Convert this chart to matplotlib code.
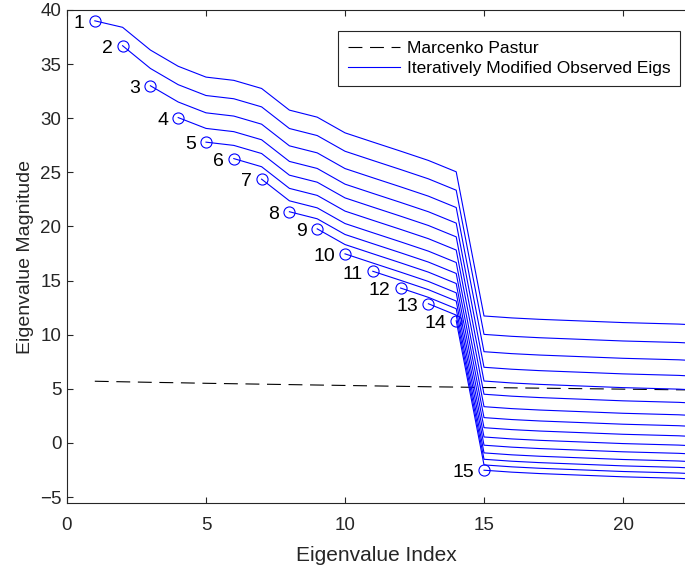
import numpy as np
import matplotlib
matplotlib.use('Agg')
import matplotlib.pyplot as plt

plt.rcParams['font.family'] = ['Liberation Sans', 'DejaVu Sans']
plt.rcParams['lines.scale_dashes'] = False

# eigenvalue index 1..23 (last point runs past the visible x range)
idx = np.arange(1, 24)

# first pass of observed eigenvalues
base_eigs = [39.0, 38.4, 36.3, 34.8, 33.8, 33.5, 32.75, 30.75, 30.1, 28.65,
             27.8, 26.96, 26.1, 25.05, 11.73, 11.55, 11.42, 11.32, 11.22,
             11.12, 11.05, 10.98, 10.85]

# drop applied to the remaining eigenvalues at each iteration
iter_drop = [1.70, 1.60, 1.44, 1.27, 1.22, 1.15, 1.01, 0.93, 0.86, 0.76,
             0.71, 0.59, 0.52, 0.49]

# Marcenko-Pastur reference level
mp_eigs = [5.70, 5.65, 5.60, 5.56, 5.51, 5.47, 5.43, 5.39, 5.35, 5.31, 5.27,
           5.23, 5.19, 5.16, 5.12, 5.09, 5.06, 5.03, 5.00, 4.97, 4.94, 4.91,
           4.88]

n_iter = 15
offsets = np.concatenate([[0.0], np.cumsum(iter_drop)])

fig = plt.figure(figsize=(6.85, 5.69), dpi=100)
ax = fig.add_axes([67 / 685, 66 / 569, (685 - 67) / 685, 493 / 569])

blue = (0.0, 0.0, 1.0)
mp_line, = ax.plot(idx, mp_eigs, color='k', lw=0.8, dashes=(10, 5.5),
                   label='Marcenko Pastur')

base = np.array(base_eigs)
for k in range(1, n_iter + 1):
    x = idx[k - 1:]
    y = base[k - 1:] - offsets[k - 1]
    ln, = ax.plot(x, y, color=blue, lw=0.8)
    ax.plot(x[0], y[0], 'o', mfc='none', mec=blue, ms=8, mew=0.8)
    ax.annotate(str(k), (x[0], y[0]), xytext=(-7.2, -2),
                textcoords='offset points', ha='right', va='center',
                fontsize=14, color='k')
    if k == 1:
        ln.set_label('Iteratively Modified Observed Eigs')
        obs_line = ln

ax.set_xlim(0, 22.23)
ax.set_ylim(-5.55, 40)
ax.set_xticks([0, 5, 10, 15, 20])
ax.set_yticks(np.arange(-5, 41, 5))

edge = (0.15, 0.15, 0.15)
for side in ['left', 'bottom', 'top']:
    ax.spines[side].set_color(edge)
    ax.spines[side].set_linewidth(0.8)
ax.spines['right'].set_visible(False)
ax.tick_params(direction='in', length=4.5, width=0.8, top=True, color=edge,
               labelcolor=edge, labelsize=13.5)
ax.tick_params(axis='x', pad=10)
ax.tick_params(axis='y', pad=4)

ax.set_xlabel('Eigenvalue Index', fontsize=15, color=edge, labelpad=9)
ax.set_ylabel('Eigenvalue Magnitude', fontsize=14, color=edge, labelpad=4)

leg = ax.legend(handles=[mp_line, obs_line], loc='upper right',
                bbox_to_anchor=(680 / 685, 1 - 31 / 569),
                bbox_transform=fig.transFigure, fontsize=12.5,
                fancybox=False, framealpha=1, edgecolor=edge,
                handlelength=3.0, handletextpad=0.4, borderpad=0.55,
                labelspacing=0.3, borderaxespad=0)
leg.get_frame().set_linewidth(0.8)

fig.savefig('out.png', dpi=100)
